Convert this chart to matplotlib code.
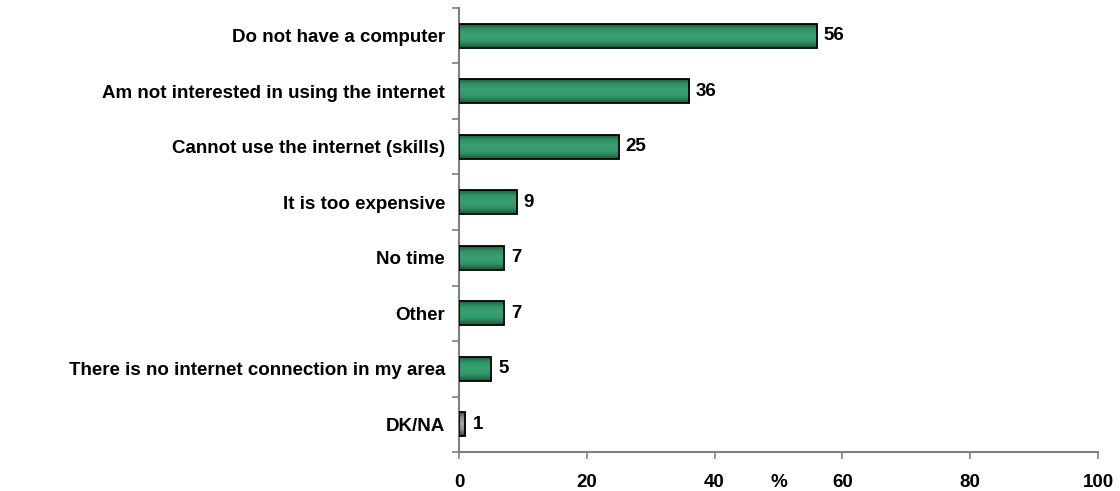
import numpy as np
import matplotlib
matplotlib.use("Agg")
import matplotlib.pyplot as plt
from matplotlib.colors import LinearSegmentedColormap

categories = [
    "Do not have a computer",
    "Am not interested in using the internet",
    "Cannot use the internet (skills)",
    "It is too expensive",
    "No time",
    "Other",
    "There is no internet connection in my area",
    "DK/NA",
]
values = [56, 36, 25, 9, 7, 7, 5, 1]
x_ticks = [0, 20, 40, 60, 80, 100]

plt.rcParams["font.family"] = ["Liberation Sans", "DejaVu Sans"]
plt.rcParams["font.weight"] = "bold"
FS = 13.5

fig = plt.figure(figsize=(11.2, 4.91), dpi=100)
ax = fig.add_axes([459 / 1120, 1 - 452 / 491, (1098 - 459) / 1120, (452 - 8) / 491])

n = len(categories)
ypos = np.arange(n)
bars = ax.barh(ypos, values, height=0.44, facecolor="none",
               edgecolor="black", linewidth=1.3, zorder=3)

green = LinearSegmentedColormap.from_list(
    "g", ["#17583a", "#2f9566", "#3aa173", "#2f9566", "#17583a"])
grey = LinearSegmentedColormap.from_list(
    "k", ["#3a3a3a", "#8c8c8c", "#a8a8a8", "#8c8c8c", "#3a3a3a"])
grad = np.linspace(0, 1, 64).reshape(-1, 1)

for i, b in enumerate(bars):
    x0, y0 = b.get_x(), b.get_y()
    w, h = b.get_width(), b.get_height()
    cmap = grey if categories[i] == "DK/NA" else green
    im = ax.imshow(grad, cmap=cmap, aspect="auto", origin="lower",
                   extent=[x0, x0 + w, y0, y0 + h], zorder=2,
                   interpolation="bilinear")
    im.set_clip_path(b)
    ax.text(x0 + w + 1.1, y0 + h / 2, f"{values[i]}", va="center",
            ha="left", fontsize=FS, fontweight="bold", zorder=4)

ax.set_xlim(0, 100)
ax.set_ylim(n - 0.5, -0.5)
ax.set_xticks(x_ticks)
ax.set_xticklabels([str(t) for t in x_ticks], fontsize=FS, fontweight="bold")
ax.set_yticks(ypos)
ax.set_yticklabels(categories, fontsize=FS, fontweight="bold")
ax.tick_params(axis="y", length=0, pad=10)
ax.set_yticks(np.arange(n + 1) - 0.5, minor=True)
ax.tick_params(axis="y", which="minor", length=5, color="#808080", width=1.2)
ax.tick_params(axis="x", length=5, color="#808080", width=1.2, pad=11)

for side in ("top", "right"):
    ax.spines[side].set_visible(False)
for side in ("left", "bottom"):
    ax.spines[side].set_color("#808080")
    ax.spines[side].set_linewidth(1.5)

ax.annotate("%", xy=(50, 0), xycoords=("data", "axes fraction"),
            xytext=(0, -22), textcoords="offset pixels", ha="center",
            va="top", fontsize=FS, fontweight="bold")

fig.savefig("out.png", dpi=100)
